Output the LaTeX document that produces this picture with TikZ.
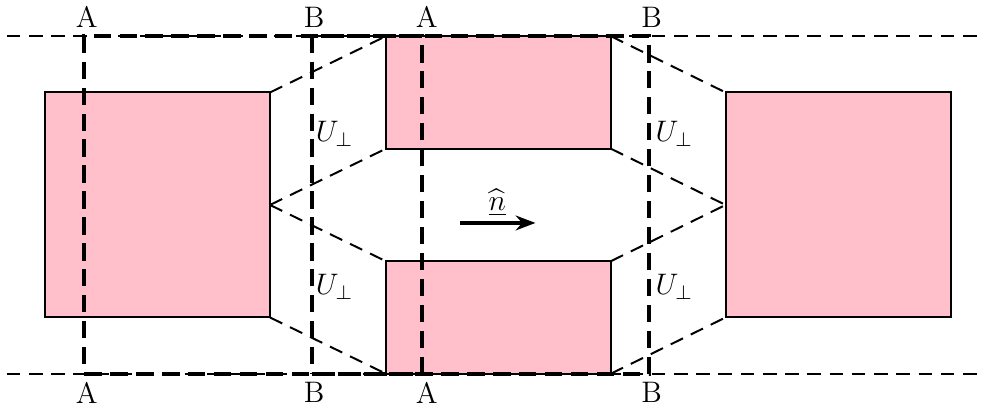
\documentclass[tikz,border=0pt]{standalone}
\usepackage{amsmath,amssymb}
\usepackage{xcolor}
\usepackage{tikz}
\usetikzlibrary{arrows.meta,positioning}
\definecolor{ink}{HTML}{000000}
\definecolor{rose}{RGB}{255,192,203}
\tikzset{
  every node/.style={text=ink, font=\large},
  % pink blocks; the size is given per node
  blk/.style={draw=ink, fill=rose, line width=0.8pt, inner sep=0pt, outer sep=0pt},
  cutbox/.style={draw=ink, line width=1.6pt, dash pattern=on 7pt off 3.5pt, inner sep=0pt, outer sep=0pt,
                 minimum width=4.8cm, minimum height=4.8cm},
  guide/.style={line width=0.8pt, dash pattern=on 5.5pt off 3.5pt, color=ink},
  flow/.style={-{Stealth[length=8pt,width=6pt]}, line width=1.4pt, color=ink},
  perp/.style={anchor=west, inner sep=2pt},
}

\begin{document}
\begin{tikzpicture}[x=1.6cm,y=1.6cm]
  \useasboundingbox (-0.4,-1.884) rectangle (8.356,1.822);

  % boundary lines of the channel
  \coordinate (topL) at (-0.34,1.5);
  \coordinate (topR) at (8.356,1.5);
  \coordinate (botL) at (-0.34,-1.5);
  \coordinate (botR) at (8.356,-1.5);
  \draw[guide] (topL) -- (topR);
  \draw[guide] (botL) -- (botR);

  % blocks
  \node[blk, minimum width=3.2cm, minimum height=3.2cm] (lsq) at (1.0,0) {};
  \node[blk, minimum width=3.2cm, minimum height=1.6cm] (upr) at (4.03,1) {};
  \node[blk, minimum width=3.2cm, minimum height=1.6cm] (lwr) at (4.03,-1) {};
  \node[blk, minimum width=3.2cm, minimum height=3.2cm] (rsq) at (7.05,0) {};

  \draw[guide] (lsq.north east) -- (upr.north west);
  \draw[guide] (lsq.east) -- (upr.south west);
  \draw[guide] (lsq.east) -- (lwr.north west);
  \draw[guide] (lsq.south east) -- (lwr.south west);
  \draw[guide] (upr.north east) -- (rsq.north west);
  \draw[guide] (upr.south east) -- (rsq.west);
  \draw[guide] (lwr.north east) -- (rsq.west);
  \draw[guide] (lwr.south east) -- (rsq.south west);

  % cuts A and B
  \node[cutbox] (cutA) at (1.85,0) {};
  \node[cutbox] (cutB) at (3.87,0) {};
  \node[above, xshift=1pt] (tA1) at (cutA.north west) {A};
  \node[above, xshift=1pt] (tB1) at (cutB.north west) {B};
  \node[above, xshift=2pt] (tA2) at (cutA.north east) {A};
  \node[above, xshift=1pt] (tB2) at (cutB.north east) {B};
  \node[below, xshift=1pt] (bA1) at (cutA.south west) {A};
  \node[below, xshift=1pt] (bB1) at (cutB.south west) {B};
  \node[below, xshift=2pt] (bA2) at (cutA.south east) {A};
  \node[below, xshift=1pt] (bB2) at (cutB.south east) {B};

  \node[perp] (uAt) at (2.36,0.63) {$U_\perp$};
  \node[perp] (uAb) at (2.36,-0.73) {$U_\perp$};
  \node[perp] (uBt) at (5.38,0.63) {$U_\perp$};
  \node[perp] (uBb) at (5.38,-0.73) {$U_\perp$};

  % normal direction
  \coordinate (nfrom) at (3.69,-0.16);
  \coordinate (nto) at (4.36,-0.16);
  \draw[flow] (nfrom) -- (nto);
  \node (nlab) at (4.02,0.02) {$\underline{\widehat{n}}$};
\end{tikzpicture}
\end{document}
